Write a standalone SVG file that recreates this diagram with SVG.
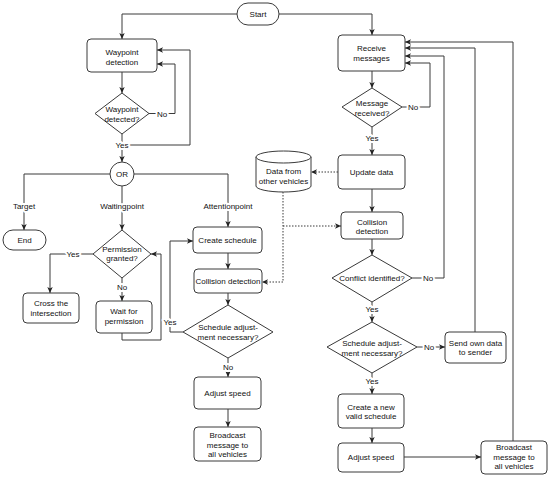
<svg xmlns="http://www.w3.org/2000/svg" width="550" height="478" viewBox="0 0 550 478">
<defs>
<style>
.n{fill:#fff;stroke:#3a3a3a;stroke-width:1}
.t{font-family:"Liberation Sans",Arial,sans-serif;font-size:8px;fill:#111;text-anchor:middle}
.c{fill:none;stroke:#3a3a3a;stroke-width:1}
.d{fill:none;stroke:#3a3a3a;stroke-width:1;stroke-dasharray:1.5 1.5}
.l{paint-order:stroke;stroke:#fff;stroke-width:4px;stroke-linejoin:round}
</style>
<marker id="a" markerUnits="userSpaceOnUse" markerWidth="7" markerHeight="7" refX="6" refY="3.5" orient="auto">
<path d="M0,0.8 L6,3.5 L0,6.2 L1.5,3.5 Z" fill="#222"/>
</marker>
</defs>
<g id="connectors">
<path class="c" d="M237,14 H122 V39" marker-end="url(#a)"/>
<path class="c" d="M279,14 H372 V35" marker-end="url(#a)"/>
<path class="c" d="M122,72 V93" marker-end="url(#a)"/>
<path class="c" d="M149,113.5 H175 V64 H157" marker-end="url(#a)"/>
<path class="c" d="M122,134 V162" marker-end="url(#a)"/>
<path class="c" d="M122,145 H190 V50 H157" marker-end="url(#a)"/>
<path class="c" d="M110,174 H24 V230" marker-end="url(#a)"/>
<path class="c" d="M134,174 H228 V227" marker-end="url(#a)"/>
<path class="c" d="M122,186 V230" marker-end="url(#a)"/>
<path class="c" d="M93,254 H50 V293" marker-end="url(#a)"/>
<path class="c" d="M122,278 V301" marker-end="url(#a)"/>
<path class="c" d="M122,333 V340 H161 V254 H151" marker-end="url(#a)"/>
<path class="c" d="M228,253 V269" marker-end="url(#a)"/>
<path class="c" d="M228,293 V305" marker-end="url(#a)"/>
<path class="c" d="M183,332 H170 V241 H193" marker-end="url(#a)"/>
<path class="c" d="M228,358 V377" marker-end="url(#a)"/>
<path class="c" d="M228,409 V427" marker-end="url(#a)"/>
<path class="c" d="M372,71 V88" marker-end="url(#a)"/>
<path class="c" d="M402,107 H430 V63 H405" marker-end="url(#a)"/>
<path class="c" d="M372,127 V155" marker-end="url(#a)"/>
<path class="d" d="M338,172 H311" marker-end="url(#a)"/>
<path class="d" d="M283,192 V282 H262" marker-end="url(#a)"/>
<path class="d" d="M283,226 H341" marker-end="url(#a)"/>
<path class="c" d="M372,189 V212" marker-end="url(#a)"/>
<path class="c" d="M372,239 V255" marker-end="url(#a)"/>
<path class="c" d="M412,278 H444 V56 H405" marker-end="url(#a)"/>
<path class="c" d="M372,302 V322" marker-end="url(#a)"/>
<path class="c" d="M417,347 H445" marker-end="url(#a)"/>
<path class="c" d="M475,332 V48 H405" marker-end="url(#a)"/>
<path class="c" d="M372,373 V394" marker-end="url(#a)"/>
<path class="c" d="M372,428 V443" marker-end="url(#a)"/>
<path class="c" d="M404,457 H481" marker-end="url(#a)"/>
<path class="c" d="M513,441 V42 H405" marker-end="url(#a)"/>
<g class="t">
<text class="l" x="162" y="116.5">No</text>
<text class="l" x="122" y="148">Yes</text>
<text class="l" x="24" y="209">Target</text>
<text class="l" x="122" y="209">Waitingpoint</text>
<text class="l" x="228" y="209">Attentionpoint</text>
<text class="l" x="73" y="257">Yes</text>
<text class="l" x="122" y="290">No</text>
<text class="l" x="170" y="325">Yes</text>
<text class="l" x="228" y="370">No</text>
<text class="l" x="413" y="110">No</text>
<text class="l" x="372" y="141">Yes</text>
<text class="l" x="428" y="281">No</text>
<text class="l" x="372" y="312">Yes</text>
<text class="l" x="429" y="350">No</text>
<text class="l" x="372" y="384">Yes</text>
</g>
</g>
<g id="start"><rect class="n" x="237" y="3" width="42" height="22" rx="11"/><text class="t" x="258" y="17">Start</text></g>
<g id="waypoint-detection"><rect class="n" x="87" y="39" width="70" height="33" rx="4"/><text class="t" x="122" y="55">Waypoint</text><text class="t" x="122" y="64.5">detection</text></g>
<g id="waypoint-detected"><polygon class="n" points="122,93 149,113.5 122,134 95,113.5"/><text class="t" x="122" y="112">Waypoint</text><text class="t" x="122" y="122">detected?</text></g>
<g id="or"><circle class="n" cx="122" cy="174" r="12"/><text class="t" x="122" y="177">OR</text></g>
<g id="end"><rect class="n" x="3" y="230" width="43" height="20" rx="10"/><text class="t" x="24.5" y="243">End</text></g>
<g id="permission-granted"><polygon class="n" points="122,230 151,254 122,278 93,254"/><text class="t" x="122" y="252">Permission</text><text class="t" x="122" y="261">granted?</text></g>
<g id="cross"><rect class="n" x="23" y="293" width="56" height="30" rx="4"/><text class="t" x="51" y="306">Cross the</text><text class="t" x="51" y="316">intersection</text></g>
<g id="wait"><rect class="n" x="96" y="301" width="56" height="32" rx="4"/><text class="t" x="124" y="314">Wait for</text><text class="t" x="124" y="324">permission</text></g>
<g id="create-schedule"><rect class="n" x="193" y="227" width="69" height="26" rx="4"/><text class="t" x="227.5" y="243">Create schedule</text></g>
<g id="collision-left"><rect class="n" x="194" y="269" width="68" height="24" rx="4"/><text class="t" x="228" y="284">Collision detection</text></g>
<g id="schedule-adj-left"><polygon class="n" points="228,305 273,332 228,358 183,332"/><text class="t" x="228" y="330">Schedule adjust-</text><text class="t" x="228" y="340">ment necessary?</text></g>
<g id="adjust-left"><rect class="n" x="194" y="377" width="67" height="32" rx="4"/><text class="t" x="227.5" y="396">Adjust speed</text></g>
<g id="broadcast-left"><rect class="n" x="194" y="427" width="67" height="34" rx="4"/><text class="t" x="227.5" y="438">Broadcast</text><text class="t" x="227.5" y="447.5">message to</text><text class="t" x="227.5" y="457">all vehicles</text></g>
<g id="receive"><rect class="n" x="338" y="35" width="67" height="36" rx="4"/><text class="t" x="371.5" y="51">Receive</text><text class="t" x="371.5" y="61">messages</text></g>
<g id="message-received"><polygon class="n" points="372,88 402,107 372,127 342,107"/><text class="t" x="372" y="106">Message</text><text class="t" x="372" y="116">received?</text></g>
<g id="update-data"><rect class="n" x="338" y="155" width="67" height="34" rx="4"/><text class="t" x="371.5" y="175">Update data</text></g>
<g id="data-store"><path class="n" d="M256,157 A27.5,6 0 0 1 311,157 V186 A27.5,6 0 0 1 256,186 Z"/><path class="n" d="M256,157 A27.5,6 0 0 0 311,157" fill="none"/><text class="t" x="283.5" y="174">Data from</text><text class="t" x="283.5" y="184">other vehicles</text></g>
<g id="collision-right"><rect class="n" x="341" y="212" width="62" height="27" rx="4"/><text class="t" x="372" y="225">Collision</text><text class="t" x="372" y="234">detection</text></g>
<g id="conflict"><polygon class="n" points="372,255 412,278 372,302 332,278"/><text class="t" x="372" y="281">Conflict identified?</text></g>
<g id="schedule-adj-right"><polygon class="n" points="372,322 417,347 372,373 327,347"/><text class="t" x="372" y="346">Schedule adjust-</text><text class="t" x="372" y="356">ment necessary?</text></g>
<g id="send-own"><rect class="n" x="445" y="332" width="61" height="31" rx="4"/><text class="t" x="475.5" y="346">Send own data</text><text class="t" x="475.5" y="355">to sender</text></g>
<g id="create-new"><rect class="n" x="338" y="394" width="66" height="34" rx="4"/><text class="t" x="371" y="410">Create a new</text><text class="t" x="371" y="419">valid schedule</text></g>
<g id="adjust-right"><rect class="n" x="338" y="443" width="66" height="29" rx="4"/><text class="t" x="371" y="460">Adjust speed</text></g>
<g id="broadcast-right"><rect class="n" x="481" y="441" width="66" height="33" rx="4"/><text class="t" x="514" y="450">Broadcast</text><text class="t" x="514" y="460">message to</text><text class="t" x="514" y="469">all vehicles</text></g>
</svg>
